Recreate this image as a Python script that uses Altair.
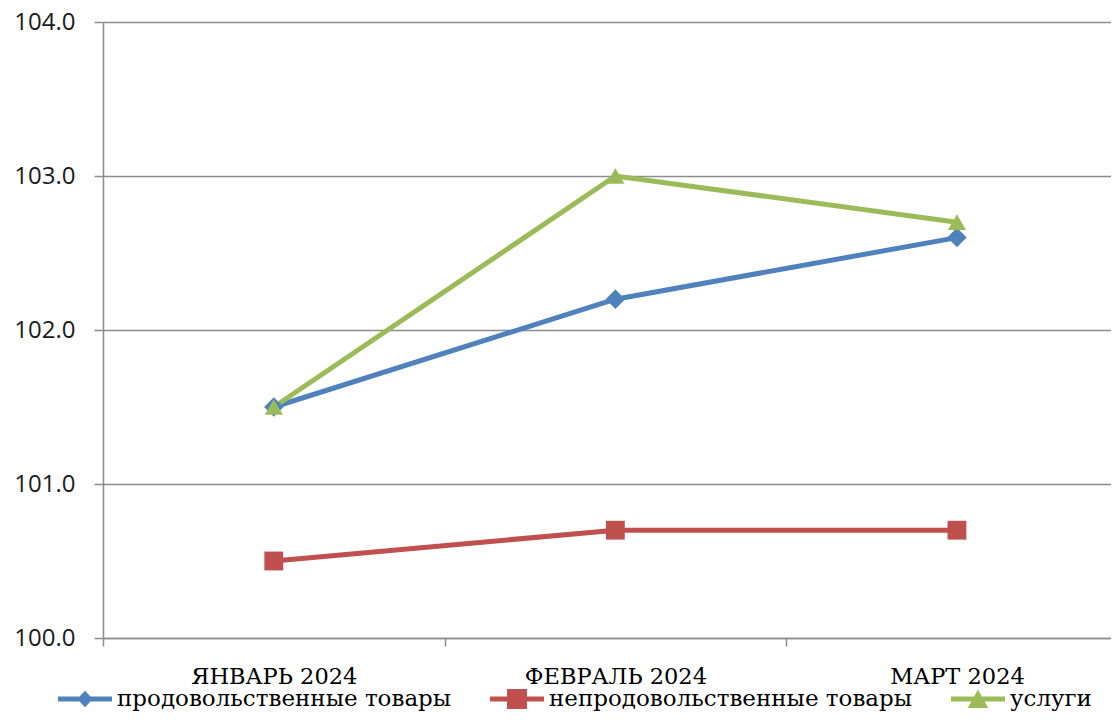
import altair as alt
import pandas as pd

months = ["ЯНВАРЬ 2024", "ФЕВРАЛЬ 2024", "МАРТ 2024"]
series = ["продовольственные товары", "непродовольственные товары", "услуги"]
food = [101.5, 102.2, 102.6]
nonfood = [100.5, 100.7, 100.7]
services = [101.5, 103.0, 102.7]
y_ticks = [100.0, 101.0, 102.0, 103.0, 104.0]
colors = ["#4f81bd", "#c0504d", "#9bbb59"]
marker_shapes = ["diamond", "square", "triangle-up"]
marker_sizes = [380, 330, 480]
legend_paths = [
    "M-1,-0.09H1V0.09H-1Z M0,-0.31L0.29,0L0,0.31L-0.29,0Z",
    "M-1,-0.09H1V0.09H-1Z M-0.37,-0.37H0.37V0.37H-0.37Z",
    "M-1,-0.09H1V0.09H-1Z M0,-0.35L0.38,0.33L-0.38,0.33Z",
]

rows = []
for s, vals in zip(series, [food, nonfood, services]):
    for i, (m, v) in enumerate(zip(months, vals)):
        rows.append({"idx": i, "month": m, "series": s, "value": v})
df = pd.DataFrame(rows)

month_positions = list(range(len(months)))
boundary_ticks = [p - 0.5 for p in month_positions]
label_expr = "[" + ",".join("'" + m + "'" for m in months) + "][datum.value]"

grid_col = "#8c8c8c"
x_scale = alt.Scale(domain=[-0.5, 2.451], nice=False, zero=False)

x_ticks_axis = alt.X(
    "idx:Q", scale=x_scale,
    axis=alt.Axis(
        title=None, orient="bottom", values=boundary_ticks, labels=False,
        tickSize=8, tickColor=grid_col, tickWidth=1.5,
        domainColor=grid_col, domainWidth=1.5, grid=False,
    ),
)
x_labels_axis = alt.X(
    "idx:Q", scale=x_scale,
    axis=alt.Axis(
        title=None, orient="bottom", values=month_positions, labelExpr=label_expr,
        ticks=False, tickSize=0, domain=False, grid=False, labelPadding=27,
        labelFont="DejaVu Serif", labelFontSize=22.5, labelColor="#000000",
        labelLimit=400, labelOverlap=False, labelAngle=0,
    ),
)
y_enc = alt.Y(
    "value:Q",
    scale=alt.Scale(domain=[100, 104], nice=False, zero=False),
    axis=alt.Axis(
        title=None, values=y_ticks, format=".1f", tickSize=9, tickColor=grid_col,
        tickWidth=1.5, domainColor=grid_col, domainWidth=1.5, labelPadding=19,
        labelFont="Open Sans", labelFontSize=24, labelColor="#1a1a1a",
        grid=True, gridColor=grid_col, gridWidth=1.5,
    ),
)

base = alt.Chart(df)

lines = base.mark_line(strokeWidth=5).encode(
    x=x_ticks_axis, y=y_enc,
    color=alt.Color("series:N", scale=alt.Scale(domain=series, range=colors), legend=None),
    detail="series:N",
)

points = base.mark_point(filled=True, opacity=1).encode(
    x=x_labels_axis, y=y_enc,
    color=alt.Color("series:N", scale=alt.Scale(domain=series, range=colors), legend=None),
    shape=alt.Shape("series:N", scale=alt.Scale(domain=series, range=marker_shapes), legend=None),
    size=alt.Size("series:N", scale=alt.Scale(domain=series, range=marker_sizes), legend=None),
)

leg = alt.Legend(
    title=None, orient="none", legendX=-45, legendY=650, direction="horizontal",
    labelFont="DejaVu Serif", labelFontSize=23, labelColor="#000000",
    symbolSize=2916, labelOffset=5, columnPadding=38, padding=0,
    symbolStrokeWidth=0, labelLimit=600,
)

legend_layer = base.transform_filter("false").mark_point(filled=True, opacity=1, size=2916).encode(
    x=alt.X("idx:Q", scale=x_scale, axis=None), y=y_enc,
    color=alt.Color("series:N", scale=alt.Scale(domain=series, range=colors), legend=leg),
    shape=alt.Shape("series:N", scale=alt.Scale(domain=series, range=legend_paths), legend=leg),
)

chart = (
    alt.layer(lines, points, legend_layer)
    .resolve_scale(color="independent", shape="independent")
    .resolve_axis(x="independent")
    .properties(
        width=1008, height=616,
        autosize=alt.AutoSizeParams(type="none"),
        padding={"left": 95, "top": 14, "right": 0, "bottom": 74},
        background="white",
    )
    .configure_view(stroke=None)
)

chart.save("out.html", embed_options={"renderer": "svg", "actions": False})
